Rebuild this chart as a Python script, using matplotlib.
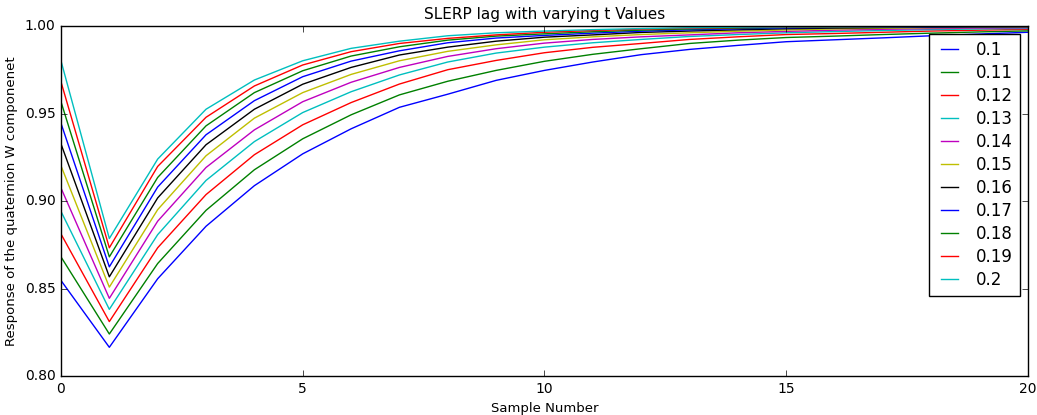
import matplotlib
matplotlib.use('Agg')
import matplotlib.pyplot as plt

plt.style.use('classic')

# sample numbers and t values
samples = list(range(21))
t_labels = ['0.1', '0.11', '0.12', '0.13', '0.14', '0.15', '0.16', '0.17', '0.18', '0.19', '0.2']

# W component response for each t
w_010 = [0.8546, 0.8164, 0.8556, 0.8856, 0.9088, 0.9270, 0.9413, 0.9536, 0.9611, 0.9690, 0.9747,
         0.9795, 0.9837, 0.9867, 0.9890, 0.9911, 0.9922, 0.9933, 0.9945, 0.9955, 0.9965]
w_011 = [0.8681, 0.8240, 0.8643, 0.8947, 0.9179, 0.9356, 0.9493, 0.9607, 0.9685, 0.9747, 0.9799,
         0.9839, 0.9871, 0.9901, 0.9920, 0.9935, 0.9943, 0.9952, 0.9960, 0.9967, 0.9973]
w_012 = [0.8812, 0.8311, 0.8733, 0.9037, 0.9265, 0.9436, 0.9563, 0.9669, 0.9751, 0.9804, 0.9848,
         0.9879, 0.9901, 0.9924, 0.9939, 0.9952, 0.9958, 0.9965, 0.9972, 0.9977, 0.9982]
w_013 = [0.8941, 0.8381, 0.8808, 0.9118, 0.9340, 0.9506, 0.9625, 0.9721, 0.9795, 0.9846, 0.9880,
         0.9905, 0.9924, 0.9941, 0.9952, 0.9962, 0.9969, 0.9975, 0.9980, 0.9984, 0.9987]
w_014 = [0.9075, 0.8444, 0.8885, 0.9192, 0.9407, 0.9568, 0.9679, 0.9764, 0.9827, 0.9871, 0.9903,
         0.9924, 0.9939, 0.9950, 0.9962, 0.9970, 0.9977, 0.9982, 0.9986, 0.9989, 0.9991]
w_015 = [0.9202, 0.8508, 0.8951, 0.9259, 0.9474, 0.9620, 0.9724, 0.9802, 0.9856, 0.9893, 0.9922,
         0.9939, 0.9952, 0.9962, 0.9971, 0.9978, 0.9984, 0.9988, 0.9991, 0.9993, 0.9995]
w_016 = [0.9327, 0.8567, 0.9018, 0.9322, 0.9525, 0.9668, 0.9764, 0.9835, 0.9880, 0.9914, 0.9937,
         0.9950, 0.9964, 0.9972, 0.9979, 0.9985, 0.9989, 0.9992, 0.9994, 0.9996, 0.9997]
w_017 = [0.9445, 0.8624, 0.9080, 0.9379, 0.9574, 0.9711, 0.9800, 0.9859, 0.9905, 0.9932, 0.9947,
         0.9960, 0.9971, 0.9979, 0.9985, 0.9990, 0.9993, 0.9995, 0.9996, 0.9997, 0.9998]
w_018 = [0.9568, 0.8681, 0.9135, 0.9430, 0.9620, 0.9745, 0.9829, 0.9882, 0.9920, 0.9943, 0.9956,
         0.9968, 0.9977, 0.9984, 0.9989, 0.9993, 0.9995, 0.9997, 0.9998, 0.9998, 0.9999]
w_019 = [0.9682, 0.8733, 0.9198, 0.9479, 0.9658, 0.9778, 0.9854, 0.9901, 0.9930, 0.9950, 0.9965,
         0.9975, 0.9983, 0.9988, 0.9992, 0.9995, 0.9997, 0.9998, 0.9999, 0.9999, 0.9999]
w_020 = [0.9802, 0.8786, 0.9240, 0.9525, 0.9692, 0.9802, 0.9873, 0.9914, 0.9945, 0.9962, 0.9972,
         0.9980, 0.9986, 0.9991, 0.9994, 0.9996, 0.9997, 0.9998, 0.9999, 0.9999, 1.0000]

responses = [w_010, w_011, w_012, w_013, w_014, w_015, w_016, w_017, w_018, w_019, w_020]

fig = plt.figure(figsize=(10.37, 4.15), dpi=100, facecolor='white')
ax = fig.add_axes([0.0588, 0.094, 0.9325, 0.843])

for w, lab in zip(responses, t_labels):
    ax.plot(samples, w, label=lab, linewidth=1)

ax.set_xlim(0, 20)
ax.set_ylim(0.80, 1.00)
ax.set_yticks([0.80, 0.85, 0.90, 0.95, 1.00])
ax.yaxis.set_major_formatter(matplotlib.ticker.FormatStrFormatter('%.2f'))
ax.tick_params(labelsize=10)

ax.set_title('SLERP lag with varying t Values', fontsize=11)
ax.set_xlabel('Sample Number', fontsize=9.5)
ax.set_ylabel('Response of the quaternion W componenet', fontsize=9.5)
ax.legend(loc='upper right', fontsize=12, handlelength=1.6, labelspacing=0.3)

fig.savefig('out.png', dpi=100, facecolor='white')
